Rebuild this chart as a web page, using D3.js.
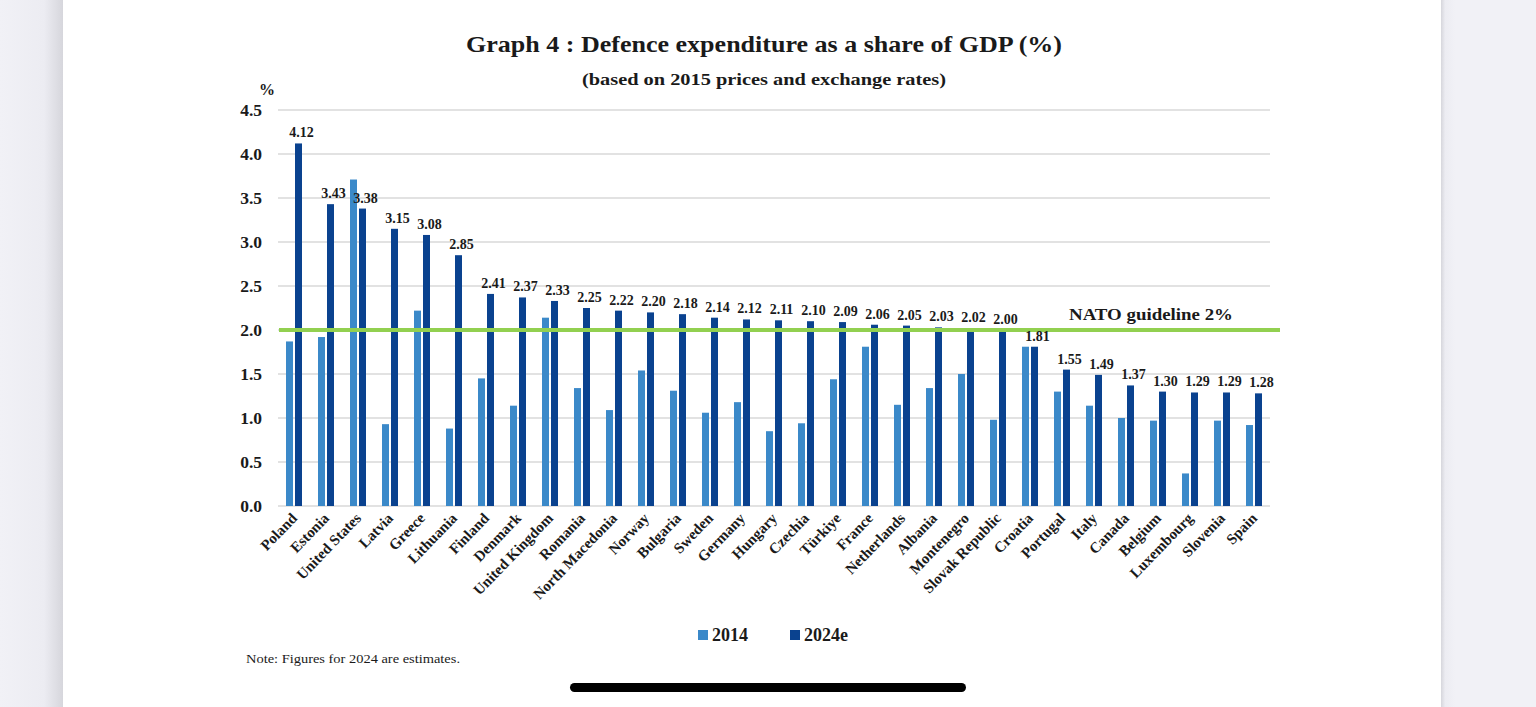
<!DOCTYPE html>
<html>
<head>
<meta charset="utf-8">
<script src="https://cdn.jsdelivr.net/npm/d3@7"></script>
<style>
	html, body { margin: 0; padding: 0; background: #f1f1f6; overflow: hidden; }
	svg { display: block; }
	text { font-family: "Liberation Serif", "DejaVu Serif", serif; fill: #1a1a1a; }
</style>
</head>
<body>
<script>
// countries, ordered as in the chart
var countries = ['Poland', 'Estonia', 'United States', 'Latvia', 'Greece', 'Lithuania', 'Finland',
	'Denmark', 'United Kingdom', 'Romania', 'North Macedonia', 'Norway', 'Bulgaria', 'Sweden',
	'Germany', 'Hungary', 'Czechia', 'Türkiye', 'France', 'Netherlands', 'Albania', 'Montenegro',
	'Slovak Republic', 'Croatia', 'Portugal', 'Italy', 'Canada', 'Belgium', 'Luxembourg',
	'Slovenia', 'Spain'];

// share of GDP, 2014
var values2014 = [1.87, 1.92, 3.71, 0.93, 2.22, 0.88, 1.45, 1.14, 2.14, 1.34, 1.09, 1.54, 1.31,
	1.06, 1.18, 0.85, 0.94, 1.44, 1.81, 1.15, 1.34, 1.50, 0.98, 1.81, 1.30, 1.14, 1.00, 0.97,
	0.37, 0.97, 0.92];

// share of GDP, 2024 estimates (labelled)
var values2024 = [4.12, 3.43, 3.38, 3.15, 3.08, 2.85, 2.41, 2.37, 2.33, 2.25, 2.22, 2.20, 2.18,
	2.14, 2.12, 2.11, 2.10, 2.09, 2.06, 2.05, 2.03, 2.02, 2.00, 1.81, 1.55, 1.49, 1.37, 1.30,
	1.29, 1.29, 1.28];

var seriesNames = ['2014', '2024e'];
var yTicks = [0, 0.5, 1, 1.5, 2, 2.5, 3, 3.5, 4, 4.5];
var natoGuideline = 2;

var svgWidth = 1536;
var svgHeight = 707;
var colors = ['#3b89c9', '#0a428f'];

var svg = d3.select('body')
	.append('svg')
	.attr('width', svgWidth)
	.attr('height', svgHeight);

// page look: grey sides with shadow, white sheet
var defs = svg.append('defs');
var shL = defs.append('linearGradient').attr('id', 'shL');
shL.append('stop').attr('offset', '0%').attr('stop-color', '#f1f1f6');
shL.append('stop').attr('offset', '70%').attr('stop-color', '#ececf2');
shL.append('stop').attr('offset', '100%').attr('stop-color', '#d6d6dc');
var shR = defs.append('linearGradient').attr('id', 'shR');
shR.append('stop').attr('offset', '0%').attr('stop-color', '#d6d6dc');
shR.append('stop').attr('offset', '30%').attr('stop-color', '#ececf2');
shR.append('stop').attr('offset', '100%').attr('stop-color', '#f1f1f6');

svg.append('rect').attr('x', 0).attr('y', 0).attr('width', 63).attr('height', svgHeight).attr('fill', 'url(#shL)');
svg.append('rect').attr('x', 1441).attr('y', 0).attr('width', 95).attr('height', svgHeight).attr('fill', '#f1f1f6');
svg.append('rect').attr('x', 1441).attr('y', 0).attr('width', 14).attr('height', svgHeight).attr('fill', 'url(#shR)');
svg.append('rect').attr('x', 63).attr('y', 0).attr('width', 1378).attr('height', svgHeight).attr('fill', '#ffffff');

// scales
var x = d3.scaleBand()
	.domain(countries)
	.range([278, 1270]);

var y = d3.scaleLinear()
	.domain([0, 4.5])
	.range([506, 110]);

var barW = 7;
var gap = 2;

// titles (the original face is a wide Garamond, so stretch to its width)
svg.append('text')
	.attr('x', 466).attr('y', 52)
	.attr('font-size', 24).attr('font-weight', 'bold')
	.attr('textLength', 596).attr('lengthAdjust', 'spacingAndGlyphs')
	.text('Graph 4 : Defence expenditure as a share of GDP (%)');

svg.append('text')
	.attr('x', 582).attr('y', 85)
	.attr('font-size', 17).attr('font-weight', 'bold')
	.attr('textLength', 364).attr('lengthAdjust', 'spacingAndGlyphs')
	.text('(based on 2015 prices and exchange rates)');

svg.append('text')
	.attr('x', 267).attr('y', 95)
	.attr('text-anchor', 'middle')
	.attr('font-size', 16).attr('font-weight', 'bold')
	.text('%');

// gridlines
svg.append('g')
	.selectAll('line')
	.data(yTicks)
	.enter()
	.append('line')
	.attr('x1', x.range()[0])
	.attr('x2', x.range()[1])
	.attr('y1', function(d) { return y(d); })
	.attr('y2', function(d) { return y(d); })
	.attr('stroke', '#d9d9d9')
	.attr('stroke-width', 1.5);

// y axis labels
var yAxis = svg.append('g')
	.attr('transform', 'translate(' + x.range()[0] + ',0)')
	.call(d3.axisLeft(y).tickValues(yTicks).tickFormat(d3.format('.1f')).tickSize(0).tickPadding(16));
yAxis.select('.domain').remove();
yAxis.selectAll('text')
	.attr('font-family', '"Liberation Serif", serif')
	.attr('font-size', 17.5)
	.attr('font-weight', 'bold')
	.attr('fill', '#1a1a1a');

// bars
var barData = countries.map(function(c, i) {
	return { country: c, v14: values2014[i], v24: values2024[i] };
});

svg.append('g')
	.selectAll('rect')
	.data(barData)
	.enter()
	.append('rect')
	.attr('x', function(d) { return x(d.country) + x.bandwidth() / 2 - gap / 2 - barW; })
	.attr('y', function(d) { return y(d.v14); })
	.attr('width', barW)
	.attr('height', function(d) { return y(0) - y(d.v14); })
	.attr('fill', colors[0]);

svg.append('g')
	.selectAll('rect')
	.data(barData)
	.enter()
	.append('rect')
	.attr('x', function(d) { return x(d.country) + x.bandwidth() / 2 + gap / 2; })
	.attr('y', function(d) { return y(d.v24); })
	.attr('width', barW)
	.attr('height', function(d) { return y(0) - y(d.v24); })
	.attr('fill', colors[1]);

// NATO guideline
svg.append('line')
	.attr('x1', 279).attr('x2', 1280)
	.attr('y1', y(natoGuideline)).attr('y2', y(natoGuideline))
	.attr('stroke', '#92d050')
	.attr('stroke-width', 4);

svg.append('text')
	.attr('x', 1069).attr('y', 320)
	.attr('font-size', 17.5).attr('font-weight', 'bold')
	.attr('textLength', 164).attr('lengthAdjust', 'spacingAndGlyphs')
	.text('NATO guideline 2%');

// value labels for 2024
svg.append('g')
	.selectAll('text')
	.data(barData)
	.enter()
	.append('text')
	.attr('x', function(d) { return x(d.country) + x.bandwidth() / 2 + gap / 2 + barW / 2 + 3; })
	.attr('y', function(d) { return y(d.v24) - 6; })
	.attr('text-anchor', 'middle')
	.attr('font-size', 14).attr('font-weight', 'bold')
	.text(function(d) { return d.v24.toFixed(2); });

// country labels
svg.append('g')
	.selectAll('text')
	.data(countries)
	.enter()
	.append('text')
	.attr('transform', function(d) {
		return 'translate(' + (x(d) + x.bandwidth() / 2 + 4) + ',519) rotate(-46)';
	})
	.attr('text-anchor', 'end')
	.attr('font-size', 15).attr('font-weight', 'bold')
	.text(function(d) { return d; });

// legend
var legend = svg.append('g')
	.selectAll('g')
	.data(seriesNames)
	.enter()
	.append('g')
	.attr('transform', function(d, i) { return 'translate(' + (698 + i * 92) + ',630)'; });

legend.append('rect')
	.attr('width', 10).attr('height', 10)
	.attr('fill', function(d, i) { return colors[i]; });

legend.append('text')
	.attr('x', 14).attr('y', 11)
	.attr('font-size', 18).attr('font-weight', 'bold')
	.text(function(d) { return d; });

// note
svg.append('text')
	.attr('x', 246).attr('y', 663)
	.attr('font-size', 13)
	.attr('textLength', 214).attr('lengthAdjust', 'spacingAndGlyphs')
	.text('Note: Figures for 2024 are estimates.');

// home indicator bar
svg.append('rect')
	.attr('x', 570).attr('y', 683)
	.attr('width', 396).attr('height', 9)
	.attr('rx', 4.5)
	.attr('fill', '#000000');
</script>
</body>
</html>
